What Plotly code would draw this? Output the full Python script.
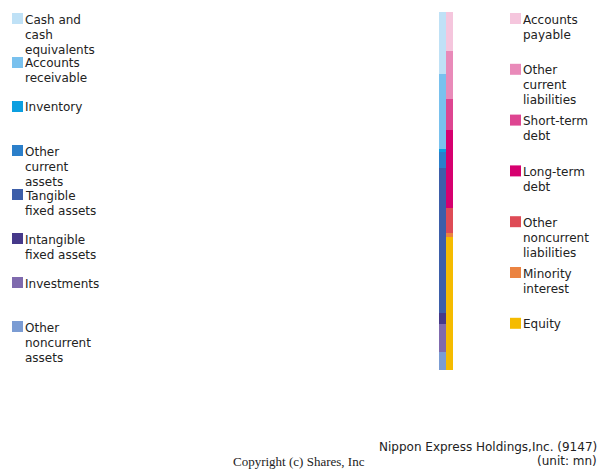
import plotly.graph_objects as go

# Data (unit: mn) (top to bottom in each stack)
asset_labels = ["Cash and<br>cash<br>equivalents", "Accounts<br>receivable", "Inventory",
                "Other<br>current<br>assets", "Tangible<br>fixed assets", "Intangible<br>fixed assets",
                "Investments", "Other<br>noncurrent<br>assets"]
asset_values = [372000, 450000, 16000, 100000, 870000, 66000, 166000, 110000]
asset_colors = ["#bfe1f6", "#79c1ee", "#0c9fe0", "#2b7fca", "#3d5ea9", "#46398a", "#7f6aae", "#7b9cd3"]

liab_labels = ["Accounts<br>payable", "Other<br>current<br>liabilities", "Short-term<br>debt",
               "Long-term<br>debt", "Other<br>noncurrent<br>liabilities", "Minority<br>interest", "Equity"]
liab_values = [234000, 288000, 186000, 468000, 150000, 24000, 800000]
liab_colors = ["#f5c6dd", "#e98ab9", "#de4591", "#d6006f", "#de4b56", "#eb8341", "#f5bb00"]

categories = ["Assets", "Liabilities"]
total = sum(asset_values)

W, H = 600, 470
fig = go.Figure()

for lab, val, col in reversed(list(zip(asset_labels, asset_values, asset_colors))):
    fig.add_trace(go.Bar(x=[0], y=[val], width=1, marker=dict(color=col, line=dict(width=0)),
                         name=lab.replace("<br>", " "), showlegend=False, hoverinfo="name+y"))
for lab, val, col in reversed(list(zip(liab_labels, liab_values, liab_colors))):
    fig.add_trace(go.Bar(x=[1], y=[val], width=1, marker=dict(color=col, line=dict(width=0)),
                         name=lab.replace("<br>", " "), showlegend=False, hoverinfo="name+y"))

def px(x):
    return x / W

def py(y):
    return 1 - y / H

shapes = []
annotations = []
font = dict(family="DejaVu Sans", size=12, color="#222222")

def legend(labels, colors, sq_x, text_x, y0, step):
    for i, (lab, col) in enumerate(zip(labels, colors)):
        top = y0 + i * step
        shapes.append(dict(type="rect", xref="paper", yref="paper",
                           x0=px(sq_x), x1=px(sq_x + 11), y0=py(top), y1=py(top + 11),
                           fillcolor=col, line=dict(width=0)))
        for j, line in enumerate(lab.split("<br>")):
            annotations.append(dict(text=line, xref="paper", yref="paper",
                                    x=px(text_x), y=py(top + 6.5 + j * 15),
                                    xanchor="left", yanchor="middle", showarrow=False, font=font))

legend(asset_labels, asset_colors, 12, 23, 13, 44)
legend(liab_labels, liab_colors, 510, 521, 13, 50.8)

annotations.append(dict(text="Nippon Express Holdings,Inc. (9147)", xref="paper", yref="paper",
                        x=px(599), y=py(447), xanchor="right", yanchor="middle", showarrow=False, font=font))
annotations.append(dict(text="(unit: mn)", xref="paper", yref="paper",
                        x=px(599), y=py(461), xanchor="right", yanchor="middle", showarrow=False, font=font))
annotations.append(dict(text="Copyright (c) Shares, Inc", xref="paper", yref="paper",
                        x=px(367), y=py(461), xanchor="right", yanchor="middle", showarrow=False,
                        font=dict(family="Liberation Serif", size=13, color="#222222")))

fig.update_layout(
    width=W, height=H, margin=dict(l=0, r=0, t=0, b=0),
    paper_bgcolor="white", plot_bgcolor="white",
    barmode="stack", bargap=0,
    xaxis=dict(domain=[px(439), px(453)], range=[-0.5, 1.5], visible=False, fixedrange=True),
    yaxis=dict(domain=[py(370), py(12)], range=[0, total], visible=False, fixedrange=True),
    shapes=shapes, annotations=annotations, showlegend=False,
)

fig.write_html("out.html", config={"displayModeBar": False},
               post_script="document.body.style.margin='0';")
